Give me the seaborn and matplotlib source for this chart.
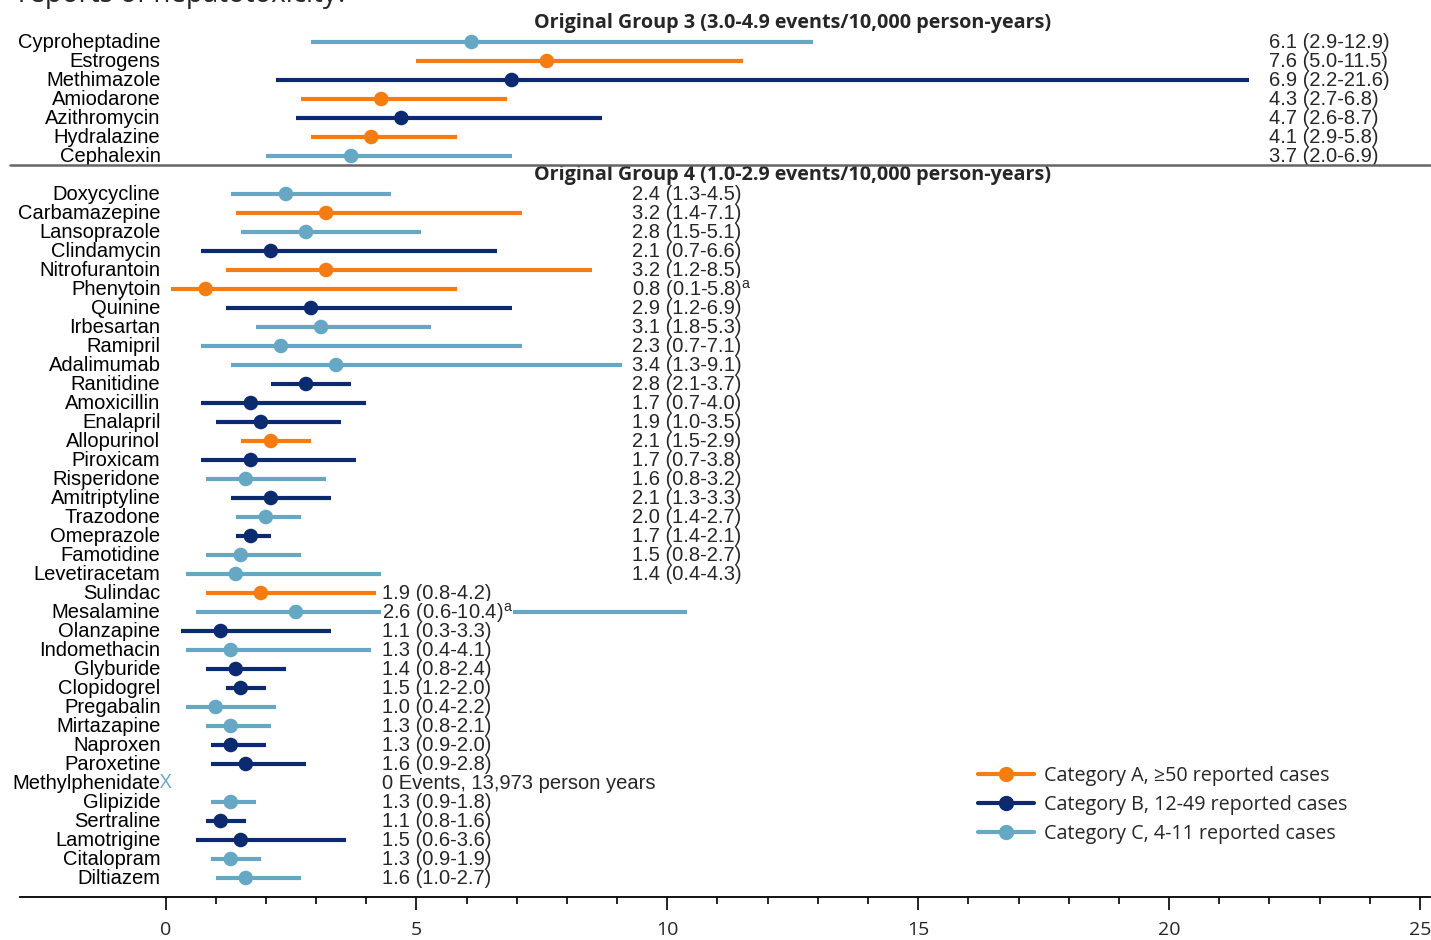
import matplotlib
matplotlib.use("Agg")
import matplotlib.pyplot as plt
from matplotlib.lines import Line2D
from matplotlib.ticker import FixedLocator
import numpy as np
import pandas as pd
import seaborn as sns

# ---- data ----
group3_drugs = ["Cyproheptadine", "Estrogens", "Methimazole", "Amiodarone",
                "Azithromycin", "Hydralazine", "Cephalexin"]
group3_est = [6.1, 7.6, 6.9, 4.3, 4.7, 4.1, 3.7]
group3_low = [2.9, 5.0, 2.2, 2.7, 2.6, 2.9, 2.0]
group3_high = [12.9, 11.5, 21.6, 6.8, 8.7, 5.8, 6.9]
group3_cat = ["C", "A", "B", "A", "B", "A", "C"]

group4_drugs = ["Doxycycline", "Carbamazepine", "Lansoprazole", "Clindamycin",
                "Nitrofurantoin", "Phenytoin", "Quinine", "Irbesartan", "Ramipril",
                "Adalimumab", "Ranitidine", "Amoxicillin", "Enalapril", "Allopurinol",
                "Piroxicam", "Risperidone", "Amitriptyline", "Trazodone", "Omeprazole",
                "Famotidine", "Levetiracetam", "Sulindac", "Mesalamine", "Olanzapine",
                "Indomethacin", "Glyburide", "Clopidogrel", "Pregabalin", "Mirtazapine",
                "Naproxen", "Paroxetine", "Methylphenidate", "Glipizide", "Sertraline",
                "Lamotrigine", "Citalopram", "Diltiazem"]
group4_est = [2.4, 3.2, 2.8, 2.1, 3.2, 0.8, 2.9, 3.1, 2.3, 3.4, 2.8, 1.7, 1.9, 2.1,
              1.7, 1.6, 2.1, 2.0, 1.7, 1.5, 1.4, 1.9, 2.6, 1.1, 1.3, 1.4, 1.5, 1.0,
              1.3, 1.3, 1.6, np.nan, 1.3, 1.1, 1.5, 1.3, 1.6]
group4_low = [1.3, 1.4, 1.5, 0.7, 1.2, 0.1, 1.2, 1.8, 0.7, 1.3, 2.1, 0.7, 1.0, 1.5,
              0.7, 0.8, 1.3, 1.4, 1.4, 0.8, 0.4, 0.8, 0.6, 0.3, 0.4, 0.8, 1.2, 0.4,
              0.8, 0.9, 0.9, np.nan, 0.9, 0.8, 0.6, 0.9, 1.0]
group4_high = [4.5, 7.1, 5.1, 6.6, 8.5, 5.8, 6.9, 5.3, 7.1, 9.1, 3.7, 4.0, 3.5, 2.9,
               3.8, 3.2, 3.3, 2.7, 2.1, 2.7, 4.3, 4.2, 10.4, 3.3, 4.1, 2.4, 2.0, 2.2,
               2.1, 2.0, 2.8, np.nan, 1.8, 1.6, 3.6, 1.9, 2.7]
group4_cat = ["C", "A", "C", "B", "A", "A", "B", "C", "C", "C", "B", "B", "B", "A",
              "B", "C", "B", "C", "B", "C", "C", "A", "C", "B", "C", "B", "B", "C",
              "C", "B", "B", "C", "C", "B", "B", "C", "C"]
footnote_drugs = ["Phenytoin", "Mesalamine"]
zero_event_text = {"Methylphenidate": "0 Events, 13,973 person years"}

group3_title = "Original Group 3 (3.0-4.9 events/10,000 person-years)"
group4_title = "Original Group 4 (1.0-2.9 events/10,000 person-years)"
cat_labels = {"A": "Category A, \u226550 reported cases",
              "B": "Category B, 12-49 reported cases",
              "C": "Category C, 4-11 reported cases"}
palette = {"A": "#F57C12", "B": "#0B2A6F", "C": "#66A8C3"}

# rows: 0 = group 3 header, 1-7 group 3, 8 = group 4 header, 9-45 group 4
df3 = pd.DataFrame({"drug": group3_drugs, "est": group3_est, "low": group3_low,
                    "high": group3_high, "cat": group3_cat})
df3["row"] = np.arange(1, len(df3) + 1)
df3["col"] = 22.0
df4 = pd.DataFrame({"drug": group4_drugs, "est": group4_est, "low": group4_low,
                    "high": group4_high, "cat": group4_cat})
df4["row"] = np.arange(9, 9 + len(df4))
df4["col"] = np.where(np.arange(len(df4)) < 21, 9.3, 4.31)
df = pd.concat([df3, df4], ignore_index=True)

narrow = ["Liberation Sans", "DejaVu Sans"]
wide = ["Open Sans", "DejaVu Sans"]

sns.set_style("white")
plt.rcParams["font.family"] = narrow

W, H = 1431, 940
fig = plt.figure(figsize=(W / 100, H / 100), dpi=100)
ax = fig.add_axes([20 / W, 43 / H, 1410 / W, 897 / H])

for cat, sub in df.dropna().groupby("cat"):
    ax.hlines(sub["row"], sub["low"], sub["high"], color=palette[cat], lw=3.0,
              zorder=2)
sns.scatterplot(data=df.dropna(), x="est", y="row", hue="cat", palette=palette,
                s=110, linewidth=0, legend=False, zorder=3, ax=ax)

fs = 14.5
for _, r in df.iterrows():
    ax.text(-0.1, r["row"] + 0.05, r["drug"], ha="right", va="center", fontsize=fs,
            color="black")
    if r["drug"] in zero_event_text:
        ax.text(0, r["row"], "X", ha="center", va="center", fontsize=fs,
                color=palette[r["cat"]], family=wide)
        label = zero_event_text[r["drug"]]
    else:
        label = f"{r['est']:.1f} ({r['low']:.1f}-{r['high']:.1f})"
        if r["drug"] in footnote_drugs:
            label += r"$^\mathregular{a}$"
    ax.text(r["col"], r["row"] + 0.05, label, ha="left", va="center", fontsize=fs,
            zorder=4, bbox=dict(facecolor="white", edgecolor="none", pad=0.3))

ax.text(12.5, 0, group3_title, ha="center", va="center", fontsize=14.2,
        fontweight="bold", family=wide)
ax.text(12.5, 8, group4_title, ha="center", va="center", fontsize=14.2,
        fontweight="bold", family=wide)
ax.axhline(7.5, xmin=-0.007, xmax=1.0, color="#666666", lw=1.8, clip_on=False,
           zorder=6)

ax.set_xlim(-2.9, 25.2)
ax.set_ylim(46, 46 - 897 / 19)
ax.set_xticks(range(0, 26, 5))
ax.xaxis.set_minor_locator(FixedLocator(range(0, 26)))
ax.tick_params(axis="x", which="both", bottom=True, direction="out", color="black")
ax.tick_params(axis="x", which="major", length=9, width=1.2, pad=8, labelsize=14)
ax.tick_params(axis="x", which="minor", length=5, width=1.2)
for lab in ax.get_xticklabels():
    lab.set_family(wide)
ax.set_yticks([])
ax.set_xlabel("")
ax.set_ylabel("")
sns.despine(ax=ax, left=True)
ax.spines["bottom"].set_linewidth(1.3)
ax.spines["bottom"].set_color("black")

handles = [Line2D([0], [0], color=palette[c], lw=3.0, marker="o", markersize=10)
           for c in ["A", "B", "C"]]
fig.legend(handles, [cat_labels[c] for c in ["A", "B", "C"]], loc="upper left",
           bbox_to_anchor=(0.6834, 0.1847), frameon=False,
           handlelength=2.85, handletextpad=0.5, labelspacing=0.45,
           borderpad=0, borderaxespad=0, prop={"family": wide, "size": 14.2})

fig.text(18 / W, 1 - 2 / H, "reports of hepatotoxicity?", ha="left",
         va="baseline", fontsize=20, family=wide)

fig.savefig("out.png", dpi=100)
